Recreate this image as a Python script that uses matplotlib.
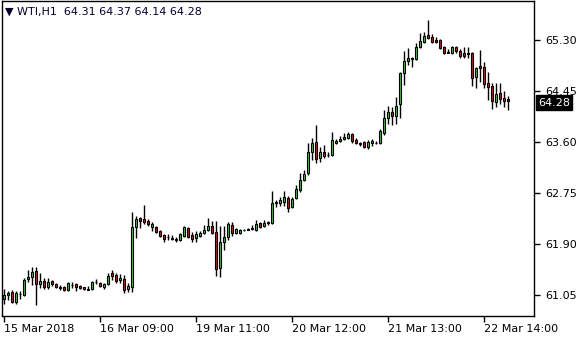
import matplotlib.pyplot as plt
import numpy as np

# WTI H1 candles, 15 Mar 2018 09:00 -> 22 Mar 2018
opens = [60.98, 61.05, 61.10, 60.93, 61.07, 61.05, 61.32, 61.35, 61.45, 61.23,
         61.28, 61.18, 61.28, 61.23, 61.18, 61.18, 61.13, 61.22, 61.23, 61.20,
         61.18, 61.15, 61.15, 61.27, 61.25, 61.18, 61.23, 61.42, 61.38, 61.30,
         61.32, 61.15, 61.18, 62.18, 62.33, 62.32, 62.28, 62.18, 62.18, 62.12,
         62.05, 62.02, 62.00, 61.98, 61.97, 62.03, 62.17, 62.05, 62.00, 62.03,
         62.08, 62.13, 62.20, 62.10, 61.50, 61.93, 62.02, 62.22, 62.08, 62.08,
         62.13, 62.15, 62.15, 62.13, 62.25, 62.20, 62.25, 62.25, 62.58, 62.58,
         62.60, 62.67, 62.52, 62.67, 62.80, 62.97, 63.08, 63.43, 63.60, 63.33,
         63.43, 63.38, 63.38, 63.58, 63.62, 63.65, 63.67, 63.73, 63.63, 63.58,
         63.60, 63.52, 63.58, 63.58, 63.58, 63.75, 64.00, 64.10, 64.03, 64.23,
         64.75, 64.95, 64.98, 64.98, 65.18, 65.27, 65.38, 65.35, 65.30, 65.30,
         65.18, 65.10, 65.08, 65.18, 65.12, 65.08, 65.08, 65.08, 64.68, 64.87,
         64.85, 64.58, 64.53, 64.27, 64.42, 64.33, 64.31]
highs = [61.15, 61.12, 61.13, 61.12, 61.12, 61.33, 61.47, 61.52, 61.52, 61.42,
         61.33, 61.33, 61.30, 61.25, 61.22, 61.20, 61.27, 61.27, 61.25, 61.22,
         61.19, 61.20, 61.28, 61.32, 61.27, 61.25, 61.42, 61.47, 61.42, 61.40,
         61.38, 61.25, 62.43, 62.37, 62.35, 62.55, 62.32, 62.27, 62.20, 62.13,
         62.07, 62.07, 62.05, 62.02, 62.08, 62.20, 62.18, 62.10, 62.12, 62.12,
         62.22, 62.33, 62.28, 62.28, 62.20, 62.20, 62.27, 62.27, 62.17, 62.15,
         62.15, 62.17, 62.22, 62.30, 62.27, 62.30, 62.28, 62.78, 62.63, 62.68,
         62.78, 62.70, 62.68, 62.88, 63.08, 63.13, 63.58, 63.67, 63.88, 63.52,
         63.55, 63.43, 63.77, 63.65, 63.70, 63.75, 63.77, 63.75, 63.67, 63.60,
         63.62, 63.63, 63.65, 63.62, 63.82, 64.13, 64.20, 64.18, 64.35, 64.77,
         65.12, 65.17, 65.02, 65.25, 65.42, 65.43, 65.63, 65.40, 65.35, 65.32,
         65.20, 65.15, 65.20, 65.20, 65.15, 65.18, 65.18, 65.10, 64.85, 65.13,
         64.93, 64.77, 64.58, 64.58, 64.58, 64.45, 64.37]
lows = [60.90, 60.97, 60.92, 60.90, 60.98, 61.03, 61.27, 61.22, 60.88, 61.17,
        61.15, 61.15, 61.20, 61.17, 61.13, 61.12, 61.12, 61.17, 61.12, 61.15,
        61.13, 61.13, 61.13, 61.23, 61.18, 61.15, 61.22, 61.30, 61.25, 61.25,
        61.08, 61.10, 61.10, 62.00, 62.17, 62.23, 62.20, 62.12, 62.08, 62.02,
        61.93, 61.97, 61.97, 61.93, 61.95, 62.02, 62.00, 61.93, 61.93, 62.02,
        62.07, 62.12, 62.07, 61.37, 61.35, 61.80, 61.97, 62.03, 62.07, 62.07,
        62.12, 62.13, 62.13, 62.12, 62.17, 62.18, 62.22, 62.23, 62.52, 62.53,
        62.53, 62.43, 62.50, 62.65, 62.77, 62.95, 63.05, 63.30, 63.25, 63.27,
        63.33, 63.35, 63.37, 63.57, 63.60, 63.63, 63.65, 63.58, 63.57, 63.53,
        63.50, 63.48, 63.53, 63.57, 63.57, 63.72, 63.90, 63.88, 63.90, 64.00,
        64.55, 64.88, 64.85, 64.97, 65.17, 65.25, 65.32, 65.25, 65.25, 65.15,
        65.07, 65.08, 65.07, 65.08, 65.00, 65.00, 65.00, 64.53, 64.50, 64.60,
        64.50, 64.30, 64.15, 64.18, 64.23, 64.18, 64.14]
closes = [61.05, 61.08, 60.93, 61.08, 61.06, 61.30, 61.35, 61.43, 61.23, 61.28,
          61.18, 61.27, 61.23, 61.18, 61.17, 61.13, 61.25, 61.21, 61.18, 61.17,
          61.15, 61.14, 61.27, 61.26, 61.20, 61.23, 61.37, 61.37, 61.28, 61.33,
          61.13, 61.20, 62.18, 62.32, 62.28, 62.27, 62.23, 62.23, 62.10, 62.03,
          61.98, 62.01, 61.99, 61.97, 62.07, 62.18, 62.02, 61.98, 62.07, 62.08,
          62.13, 62.20, 62.08, 61.48, 61.93, 62.02, 62.23, 62.08, 62.15, 62.13,
          62.14, 62.14, 62.16, 62.23, 62.18, 62.25, 62.26, 62.58, 62.60, 62.63,
          62.68, 62.50, 62.65, 62.82, 62.97, 63.07, 63.43, 63.58, 63.32, 63.43,
          63.37, 63.39, 63.63, 63.62, 63.65, 63.68, 63.73, 63.62, 63.58, 63.57,
          63.52, 63.60, 63.62, 63.59, 63.78, 64.00, 64.10, 64.03, 64.20, 64.75,
          64.95, 65.00, 65.00, 65.18, 65.28, 65.37, 65.33, 65.27, 65.27, 65.17,
          65.08, 65.09, 65.18, 65.12, 65.03, 65.03, 65.07, 64.67, 64.83, 64.83,
          64.57, 64.52, 64.28, 64.40, 64.32, 64.29, 64.28]

price_ticks = [61.05, 61.90, 62.75, 63.60, 64.45, 65.30]
date_labels = ['15 Mar 2018', '16 Mar 09:00', '19 Mar 11:00',
               '20 Mar 12:00', '21 Mar 13:00', '22 Mar 14:00']
date_pos = [0, 24, 48, 72, 96, 120]
header = '\u25BC WTI,H1  64.31 64.37 64.14 64.28'
last_price = 64.28

o = np.array(opens)
h = np.array(highs)
l = np.array(lows)
c = np.array(closes)
idx = np.arange(len(o))

fig = plt.figure(figsize=(5.8, 3.4), dpi=100)
ax = fig.add_axes([2 / 580, 1 - 316 / 340, 532 / 580, 315 / 340])

up = c >= o
colors = np.where(up, '#32cd32', '#e01010')
bottoms = np.minimum(o, c)
heights = np.maximum(np.abs(c - o), 0.004)

ax.vlines(idx, l, h, color='black', linewidth=1.0, zorder=1)
ax.bar(idx, heights, bottom=bottoms, width=0.55, color=colors,
       edgecolor='black', linewidth=0.8, zorder=2)

ax.set_xlim(-0.5, 132.5)
ax.set_ylim(60.70, 65.95)

ax.yaxis.tick_right()
ax.set_yticks(price_ticks)
ax.set_yticklabels(['%.2f' % p for p in price_ticks])
ax.set_xticks(date_pos)
ax.set_xticklabels(date_labels, ha='left')
ax.tick_params(axis='both', direction='out', length=4, width=1,
               labelsize=8, colors='black', pad=2)
ax.tick_params(axis='y', pad=4)
for s in ax.spines.values():
    s.set_color('black')
    s.set_linewidth(1)

ax.text(0.005, 0.965, header, transform=ax.transAxes, fontsize=8,
        color='#000033', ha='left', va='center')

# current price marker on the price scale
ax.annotate('%.2f' % last_price, xy=(1, last_price),
            xycoords=('axes fraction', 'data'), xytext=(3, -1),
            textcoords='offset points', fontsize=8, color='white',
            ha='left', va='center', zorder=5,
            bbox=dict(boxstyle='square,pad=0.2', facecolor='black',
                      edgecolor='black'))

fig.savefig('out.png', dpi=100)
